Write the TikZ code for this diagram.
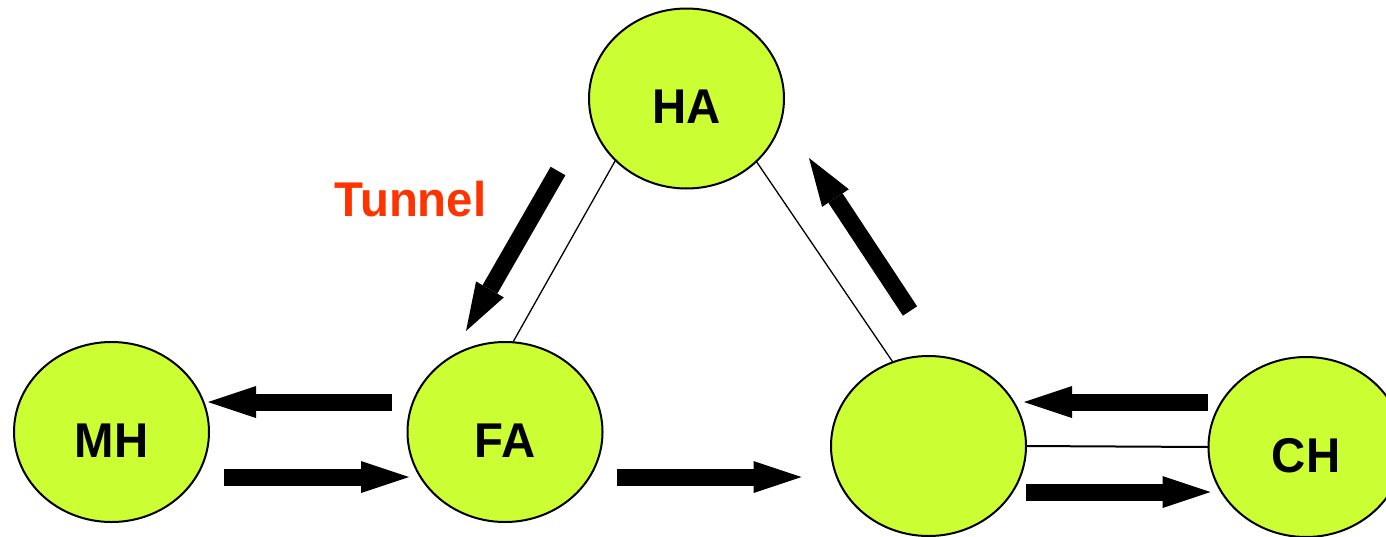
\documentclass[tikz,border=0pt]{standalone}
\usepackage{fontspec}
\setmainfont{Liberation Sans}
\newfontfamily\lblfont{Liberation Sans}[FakeStretch=0.97]
\usetikzlibrary{shapes.geometric,arrows.meta,calc}
\definecolor{lime}{HTML}{CCFF33}
\definecolor{tunnelred}{HTML}{FF3300}
\begin{document}
\begin{tikzpicture}[x=0.5pt,y=-0.5pt,
  hub/.style={ellipse, draw=black, line width=1pt, fill=lime,
    minimum width=97.5pt, minimum height=90pt, inner sep=0pt, outer sep=0pt},
  lbl/.style={font=\lblfont\bfseries\fontsize{24.4pt}{28pt}\selectfont, inner sep=0pt},
  hublabel/.style={label={[lbl,yshift=-4.25pt]center:#1}},
  thinline/.style={draw=black, line width=0.65pt},
  bigarrow/.style={line width=8.5pt, -{Triangle[length=24pt,width=16pt,line width=0pt]}}
]
\useasboundingbox (0,0) rectangle (1386,536);
\fill[white] (0,0) rectangle (1386,536);

\node[hub, hublabel=HA] (HA) at (686.5,98.5) {};
\node[hub, hublabel=MH] (MH) at (111.5,432) {};
\node[hub, hublabel=FA] (FA) at (505,432) {};
\node[hub] (E) at (928.5,446) {};
\node[hub, hublabel=CH] (CH) at (1306,447) {};

\node[lbl, text=tunnelred, anchor=base] (tunnel) at (410.5,216) {Tunnel};

% thin links
\draw[thinline] (HA.221.5) -- (FA.85.3);
\draw[thinline] (HA.318.1) -- (E.113.2);
\draw[thinline, line width=1pt] (E.east) -- (CH.west);

% block arrows
\draw[bigarrow] ($(FA.center)+(-113,-30)$) -- ($(MH.center)+(96.5,-30)$);
\draw[bigarrow] ($(MH.center)+(112.5,45)$) -- ($(FA.center)+(-96,45)$);
\draw[bigarrow] ($(FA.center)+(112,45)$) -- ($(E.center)+(-127,31)$);
\draw[bigarrow] ($(CH.center)+(-98,-45)$) -- ($(E.center)+(95.5,-44)$);
\draw[bigarrow] ($(E.center)+(97.5,46)$) -- ($(CH.center)+(-95.5,45)$);
\draw[bigarrow] ($(HA.center)+(-128.5,72.5)$) -- ($(FA.center)+(-39,-101)$);
\draw[bigarrow] ($(E.center)+(-18.5,-135)$) -- ($(HA.center)+(122.5,59.5)$);
\end{tikzpicture}
\end{document}
